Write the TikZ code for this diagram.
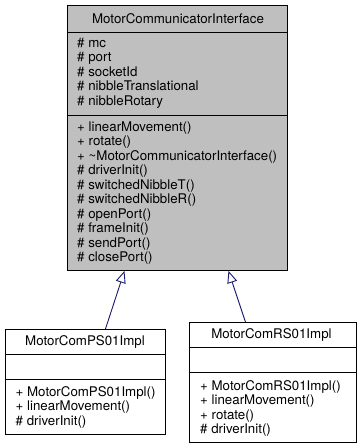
\documentclass[tikz,border=0pt]{standalone}
\usepackage{fontspec}
\setmainfont{TeX Gyre Heros}
\usetikzlibrary{arrows.meta}
\definecolor{classgrey}{HTML}{BFBFBF}
\definecolor{edgeblue}{HTML}{191970}
\begin{document}
\begin{tikzpicture}[x=1pt,y=-1pt,
  classbox/.style={draw=black, line width=0.9pt, inner sep=0pt, anchor=north west},
  member/.style={anchor=base west, inner sep=0pt, font=\fontsize{13.3}{14}\selectfont},
  title/.style={anchor=center, inner sep=0pt, font=\fontsize{13.3}{14}\selectfont},
  divider/.style={draw=black, line width=0.9pt},
  inherit/.style={draw=edgeblue, line width=0.9pt, -{Triangle[open, length=12pt, width=10pt]}}]
\useasboundingbox (0,0) rectangle (357,448);

% base class
\node[classbox, fill=classgrey, minimum width=220pt, minimum height=265pt] (iface) at (67,5) {};
\node[title] (ifaceT) at (178,19) {MotorCommunicatorInterface};
\draw[divider] (67,32) -- (287,32);
\draw[divider] (67,115) -- (287,115);
\node[member] (a1) at (77,47) {\# mc};
\node[member] (a2) at (77,61.5) {\# port};
\node[member] (a3) at (77,76) {\# socketId};
\node[member] (a4) at (77,90.5) {\# nibbleTranslational};
\node[member] (a5) at (77,105) {\# nibbleRotary};
\node[member] (m1) at (77,131) {+ linearMovement()};
\node[member] (m2) at (77,145.5) {+ rotate()};
\node[member] (m3) at (77,160) {+ \textasciitilde MotorCommunicatorInterface()};
\node[member] (m4) at (77,174.5) {\# driverInit()};
\node[member] (m5) at (77,189) {\# switchedNibbleT()};
\node[member] (m6) at (77,203.5) {\# switchedNibbleR()};
\node[member] (m7) at (77,218) {\# openPort()};
\node[member] (m8) at (77,232.5) {\# frameInit()};
\node[member] (m9) at (77,247) {\# sendPort()};
\node[member] (m10) at (77,261.5) {\# closePort()};

% derived class PS01
\node[classbox, fill=white, minimum width=160pt, minimum height=105pt] (ps) at (5,329) {};
\node[title] (psT) at (85,342) {MotorComPS01Impl};
\draw[divider] (5,354) -- (165,354);
\draw[divider] (5,379) -- (165,379);
\node[member] (p1) at (15.5,396) {+ MotorComPS01Impl()};
\node[member] (p2) at (15.5,410.5) {+ linearMovement()};
\node[member] (p3) at (15.5,425) {\# driverInit()};

% derived class RS01
\node[classbox, fill=white, minimum width=167pt, minimum height=120pt] (rs) at (189,322) {};
\node[title] (rsT) at (271.5,335) {MotorComRS01Impl};
\draw[divider] (189,347) -- (356,347);
\draw[divider] (189,372) -- (356,372);
\node[member] (r1) at (200,390) {+ MotorComRS01Impl()};
\node[member] (r2) at (200,404.5) {+ linearMovement()};
\node[member] (r3) at (200,419) {+ rotate()};
\node[member] (r4) at (200,433.5) {\# driverInit()};

% generalisation arrows
\draw[inherit] ([xshift=20pt]ps.north) -- ([xshift=-53pt]iface.south);
\draw[inherit] ([xshift=-27.5pt]rs.north) -- ([xshift=51pt]iface.south);
\end{tikzpicture}
\end{document}
